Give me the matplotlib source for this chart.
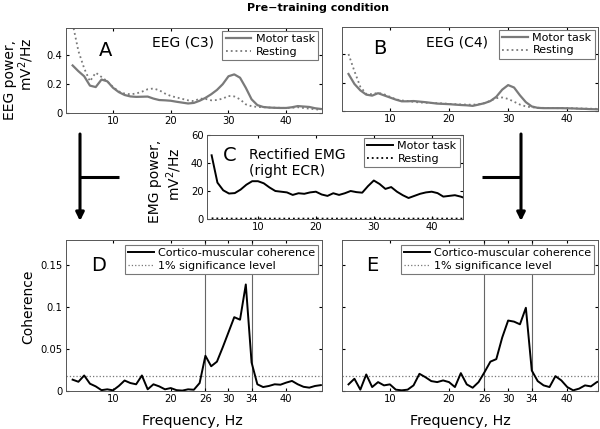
"""Pre-training condition: EEG / EMG power spectra and cortico-muscular coherence."""
import matplotlib
matplotlib.use('Agg')
import matplotlib.pyplot as plt

plt.rcParams.update({
    'font.family': ['DejaVu Sans'],
    'font.size': 7,
    'xtick.labelsize': 7.2,
    'ytick.labelsize': 7.2,
    'xtick.direction': 'in',
    'ytick.direction': 'in',
    'xtick.top': True,
    'ytick.right': True,
    'xtick.major.size': 2.5,
    'ytick.major.size': 2.5,
    'xtick.major.pad': 2.5,
    'ytick.major.pad': 2.5,
    'axes.linewidth': 0.7,
    'axes.edgecolor': '#555555',
    'mathtext.default': 'regular',
})

# ---- data ----
FREQ = [3, 4, 5, 6, 7, 8, 9, 10, 11, 12, 13, 14, 15, 16, 17, 18, 19, 20, 21, 22,
        23, 24, 25, 26, 27, 28, 29, 30, 31, 32, 33, 34, 35, 36, 37, 38, 39, 40,
        41, 42, 43, 44, 45, 46]
FREQ_EMG = [2, 3, 4, 5, 6, 7, 8, 9, 10, 11, 12, 13, 14, 15, 16, 17, 18, 19, 20,
            21, 22, 23, 24, 25, 26, 27, 28, 29, 30, 31, 32, 33, 34, 35, 36, 37,
            38, 39, 40, 41, 42, 43, 44, 45, 46]

eeg_c3_motor = [0.33, 0.29, 0.255, 0.19, 0.18, 0.232, 0.22, 0.175, 0.145, 0.125,
                0.115, 0.112, 0.113, 0.114, 0.100, 0.090, 0.088, 0.085, 0.078, 0.072,
                0.066, 0.070, 0.085, 0.105, 0.130, 0.160, 0.200, 0.255, 0.268, 0.245,
                0.175, 0.095, 0.055, 0.042, 0.038, 0.036, 0.035, 0.035, 0.040, 0.048,
                0.045, 0.042, 0.033, 0.028]
eeg_c3_rest = [0.62, 0.43, 0.31, 0.22, 0.28, 0.25, 0.22, 0.18, 0.15, 0.135,
               0.13, 0.135, 0.148, 0.165, 0.17, 0.158, 0.135, 0.118, 0.108, 0.098,
               0.088, 0.082, 0.100, 0.098, 0.088, 0.090, 0.100, 0.118, 0.115, 0.095,
               0.060, 0.047, 0.042, 0.040, 0.038, 0.037, 0.036, 0.035, 0.036, 0.040,
               0.035, 0.030, 0.026, 0.022]
eeg_c4_motor = [0.26, 0.19, 0.145, 0.115, 0.108, 0.125, 0.11, 0.095, 0.08, 0.068,
                0.068, 0.070, 0.066, 0.062, 0.057, 0.052, 0.050, 0.048, 0.045, 0.042,
                0.040, 0.036, 0.045, 0.055, 0.070, 0.100, 0.150, 0.182, 0.165, 0.110,
                0.062, 0.032, 0.022, 0.020, 0.020, 0.020, 0.020, 0.019, 0.018, 0.016,
                0.015, 0.013, 0.012, 0.012]
eeg_c4_rest = [0.40, 0.28, 0.17, 0.12, 0.118, 0.128, 0.118, 0.10, 0.082, 0.074,
               0.070, 0.064, 0.060, 0.058, 0.056, 0.055, 0.053, 0.050, 0.048, 0.046,
               0.045, 0.044, 0.048, 0.055, 0.072, 0.090, 0.095, 0.085, 0.065, 0.045,
               0.032, 0.026, 0.023, 0.022, 0.021, 0.020, 0.020, 0.020, 0.019, 0.018,
               0.017, 0.016, 0.015, 0.015]
emg_motor = [45.5, 26, 20.5, 18.2, 18.5, 21, 24.5, 27, 27, 25.5, 22.5, 20, 19.5, 19,
             17.2, 18.4, 18, 19, 19.5, 17.5, 16.5, 18.4, 17.2, 18.4, 20, 19.2, 18.8,
             23.5, 27.5, 25, 21.5, 22.8, 19.5, 17, 15, 16.5, 18, 19, 19.5, 18.5, 16,
             16.5, 17, 16, 14.5]
emg_rest = [0.5, 0.4, 0.4, 0.3, 0.3, 0.3, 0.3, 0.3, 0.3, 0.3, 0.3, 0.3, 0.3, 0.3,
            0.3, 0.3, 0.3, 0.3, 0.3, 0.3, 0.3, 0.3, 0.3, 0.3, 0.3, 0.3, 0.3, 0.3,
            0.3, 0.3, 0.3, 0.3, 0.3, 0.3, 0.3, 0.3, 0.3, 0.3, 0.3, 0.3, 0.3, 0.3,
            0.3, 0.3, 0.3]
coh_c3 = [0.0135, 0.011, 0.0185, 0.0087, 0.0055, 0.001, 0.002, 0.0008, 0.006, 0.0125,
          0.0095, 0.008, 0.0185, 0.002, 0.008, 0.0055, 0.002, 0.0035, 0.001, 0.0005,
          0.002, 0.0015, 0.0095, 0.042, 0.0295, 0.035, 0.052, 0.070, 0.088, 0.085,
          0.127, 0.034, 0.008, 0.0047, 0.006, 0.008, 0.0075, 0.010, 0.012, 0.008,
          0.005, 0.004, 0.006, 0.007]
coh_c4 = [0.0079, 0.0146, 0.0016, 0.0197, 0.0047, 0.0106, 0.0067, 0.0079, 0.0016, 0.0008,
          0.0016, 0.0067, 0.0205, 0.0165, 0.0118, 0.0106, 0.0126, 0.0106, 0.0047, 0.0213,
          0.0079, 0.0039, 0.0106, 0.0224, 0.035, 0.038, 0.0638, 0.084, 0.0827, 0.0795,
          0.0992, 0.0244, 0.0118, 0.0067, 0.0047, 0.0177, 0.0126, 0.0047, 0.0008, 0.0028,
          0.0067, 0.0055, 0.0106, 0.013]
SIG_LEVEL = 0.0177
BAND = [26, 34]

GRAY = '#7a7a7a'
W, H = 600, 429


def px_axes(fig, left, top, right, bottom):
    return fig.add_axes([left / W, 1 - bottom / H, (right - left) / W, (bottom - top) / H])


def legend(ax, anchor, **kw):
    lg = ax.legend(loc='upper right', bbox_to_anchor=anchor, borderaxespad=0,
                   fancybox=False, framealpha=1, edgecolor='#777777', fontsize=8,
                   handlelength=2.3, handletextpad=0.4, borderpad=0.3,
                   labelspacing=0.2, **kw)
    lg.get_frame().set_linewidth(0.8)
    return lg


def vtext(x, y, s):
    fig.text(x / W, 1 - y / H, s, rotation=90, fontsize=10, ha='center', va='center')


fig = plt.figure(figsize=(6.0, 4.29), dpi=100)

# ── A: EEG C3 ──
ax_a = px_axes(fig, 66, 28, 322, 113)
ax_a.plot(FREQ, eeg_c3_motor, color=GRAY, lw=1.6, label='Motor task')
ax_a.plot(FREQ, eeg_c3_rest, color=GRAY, lw=1.3, ls=':', label='Resting')
ax_a.set_xlim(1.85, 46.2)
ax_a.set_ylim(0, 0.59)
ax_a.set_xticks([10, 20, 30, 40])
ax_a.set_yticks([0, 0.2, 0.4])
ax_a.set_yticklabels(['0', '0.2', '0.4'])
legend(ax_a, (0.985, 0.965))
ax_a.text(0.156, 0.73, 'A', transform=ax_a.transAxes, fontsize=14, ha='center', va='center')
ax_a.text(0.457, 0.835, 'EEG (C3)', transform=ax_a.transAxes, fontsize=10,
          ha='center', va='center')

# ── B: EEG C4 ──
ax_b = px_axes(fig, 342, 27, 598, 111)
ax_b.plot(FREQ, eeg_c4_motor, color=GRAY, lw=1.6, label='Motor task')
ax_b.plot(FREQ, eeg_c4_rest, color=GRAY, lw=1.3, ls=':', label='Resting')
ax_b.set_xlim(1.9, 45.2)
ax_b.set_ylim(0, 0.59)
ax_b.set_xticks([10, 20, 30, 40])
ax_b.set_yticks([0, 0.2, 0.4])
ax_b.set_yticklabels([])
legend(ax_b, (0.988, 0.965))
ax_b.text(0.148, 0.74, 'B', transform=ax_b.transAxes, fontsize=14, ha='center', va='center')
ax_b.text(0.449, 0.82, 'EEG (C4)', transform=ax_b.transAxes, fontsize=10,
          ha='center', va='center')

# ── C: rectified EMG ──
ax_c = px_axes(fig, 207, 135, 463, 219)
ax_c.plot(FREQ_EMG, emg_motor, color='black', lw=1.4, label='Motor task')
ax_c.plot(FREQ_EMG, emg_rest, color='black', lw=1.3, ls=':', label='Resting')
ax_c.set_xlim(1.2, 45.4)
ax_c.set_ylim(0, 60)
ax_c.set_xticks([10, 20, 30, 40])
ax_c.set_yticks([0, 20, 40, 60])
legend(ax_c, (0.988, 0.964))
ax_c.text(0.09, 0.76, 'C', transform=ax_c.transAxes, fontsize=14, ha='center', va='center')
ax_c.text(0.164, 0.667, 'Rectified EMG\n(right ECR)', transform=ax_c.transAxes,
          fontsize=10, ha='left', va='center', linespacing=1.25)

# ── D / E: coherence ──
for left, right, coh, lim, tag, tx, xlab, show_y in [
        (66, 322, coh_c3, (1.85, 46.2), 'D', 0.129, 192, True),
        (342, 598, coh_c4, (1.9, 45.2), 'E', 0.117, 460, False)]:
    ax = px_axes(fig, left, 240, right, 391)
    for b in BAND:
        ax.axvline(b, color='#666666', lw=0.8, zorder=1)
    ax.axhline(SIG_LEVEL, color='#777777', lw=0.9, ls=':', zorder=1,
               label='1% significance level')
    ax.plot(FREQ, coh, color='black', lw=1.4, zorder=3,
            label='Cortico-muscular coherence')
    ax.set_xlim(*lim)
    ax.set_ylim(0, 0.18)
    ax.set_xticks([10, 20, 26, 30, 34, 40])
    ax.set_yticks([0, 0.05, 0.1, 0.15])
    if show_y:
        ax.set_yticklabels(['0', '0.05', '0.1', '0.15'])
    else:
        ax.set_yticklabels([])
    h, l = ax.get_legend_handles_labels()
    legend(ax, (0.986, 0.967), handles=h[::-1], labels=l[::-1])
    ax.text(tx, 0.834, tag, transform=ax.transAxes, fontsize=14, ha='center', va='center')
    fig.text(xlab / W, 1 - 421 / H, 'Frequency, Hz', fontsize=10.3,
             ha='center', va='center')

# ── figure-level labels ──
fig.text(318 / W, 1 - 8 / H, 'Pre\u2212training condition', fontsize=8,
         fontweight='bold', ha='center', va='center')
vtext(10, 80, 'EEG power,')
vtext(26, 64, 'mV$^2$/Hz')
vtext(155, 181, 'EMG power,')
vtext(174, 174, 'mV$^2$/Hz')
vtext(28, 307, 'Coherence')

# ── connecting arrows ──
ov = fig.add_axes([0, 0, 1, 1], zorder=-1)
ov.set_xlim(0, W)
ov.set_ylim(H, 0)
ov.axis('off')
for x_v, x_h in [(80, 119), (521, 482)]:
    ov.plot([x_v, x_h], [177, 177], color='black', lw=2.2, solid_capstyle='butt')
    ov.annotate('', xy=(x_v, 221), xytext=(x_v, 134),
                arrowprops=dict(arrowstyle='-|>', color='black', lw=2.2,
                                mutation_scale=12, shrinkA=0, shrinkB=0))

fig.savefig('out.png', dpi=100)
